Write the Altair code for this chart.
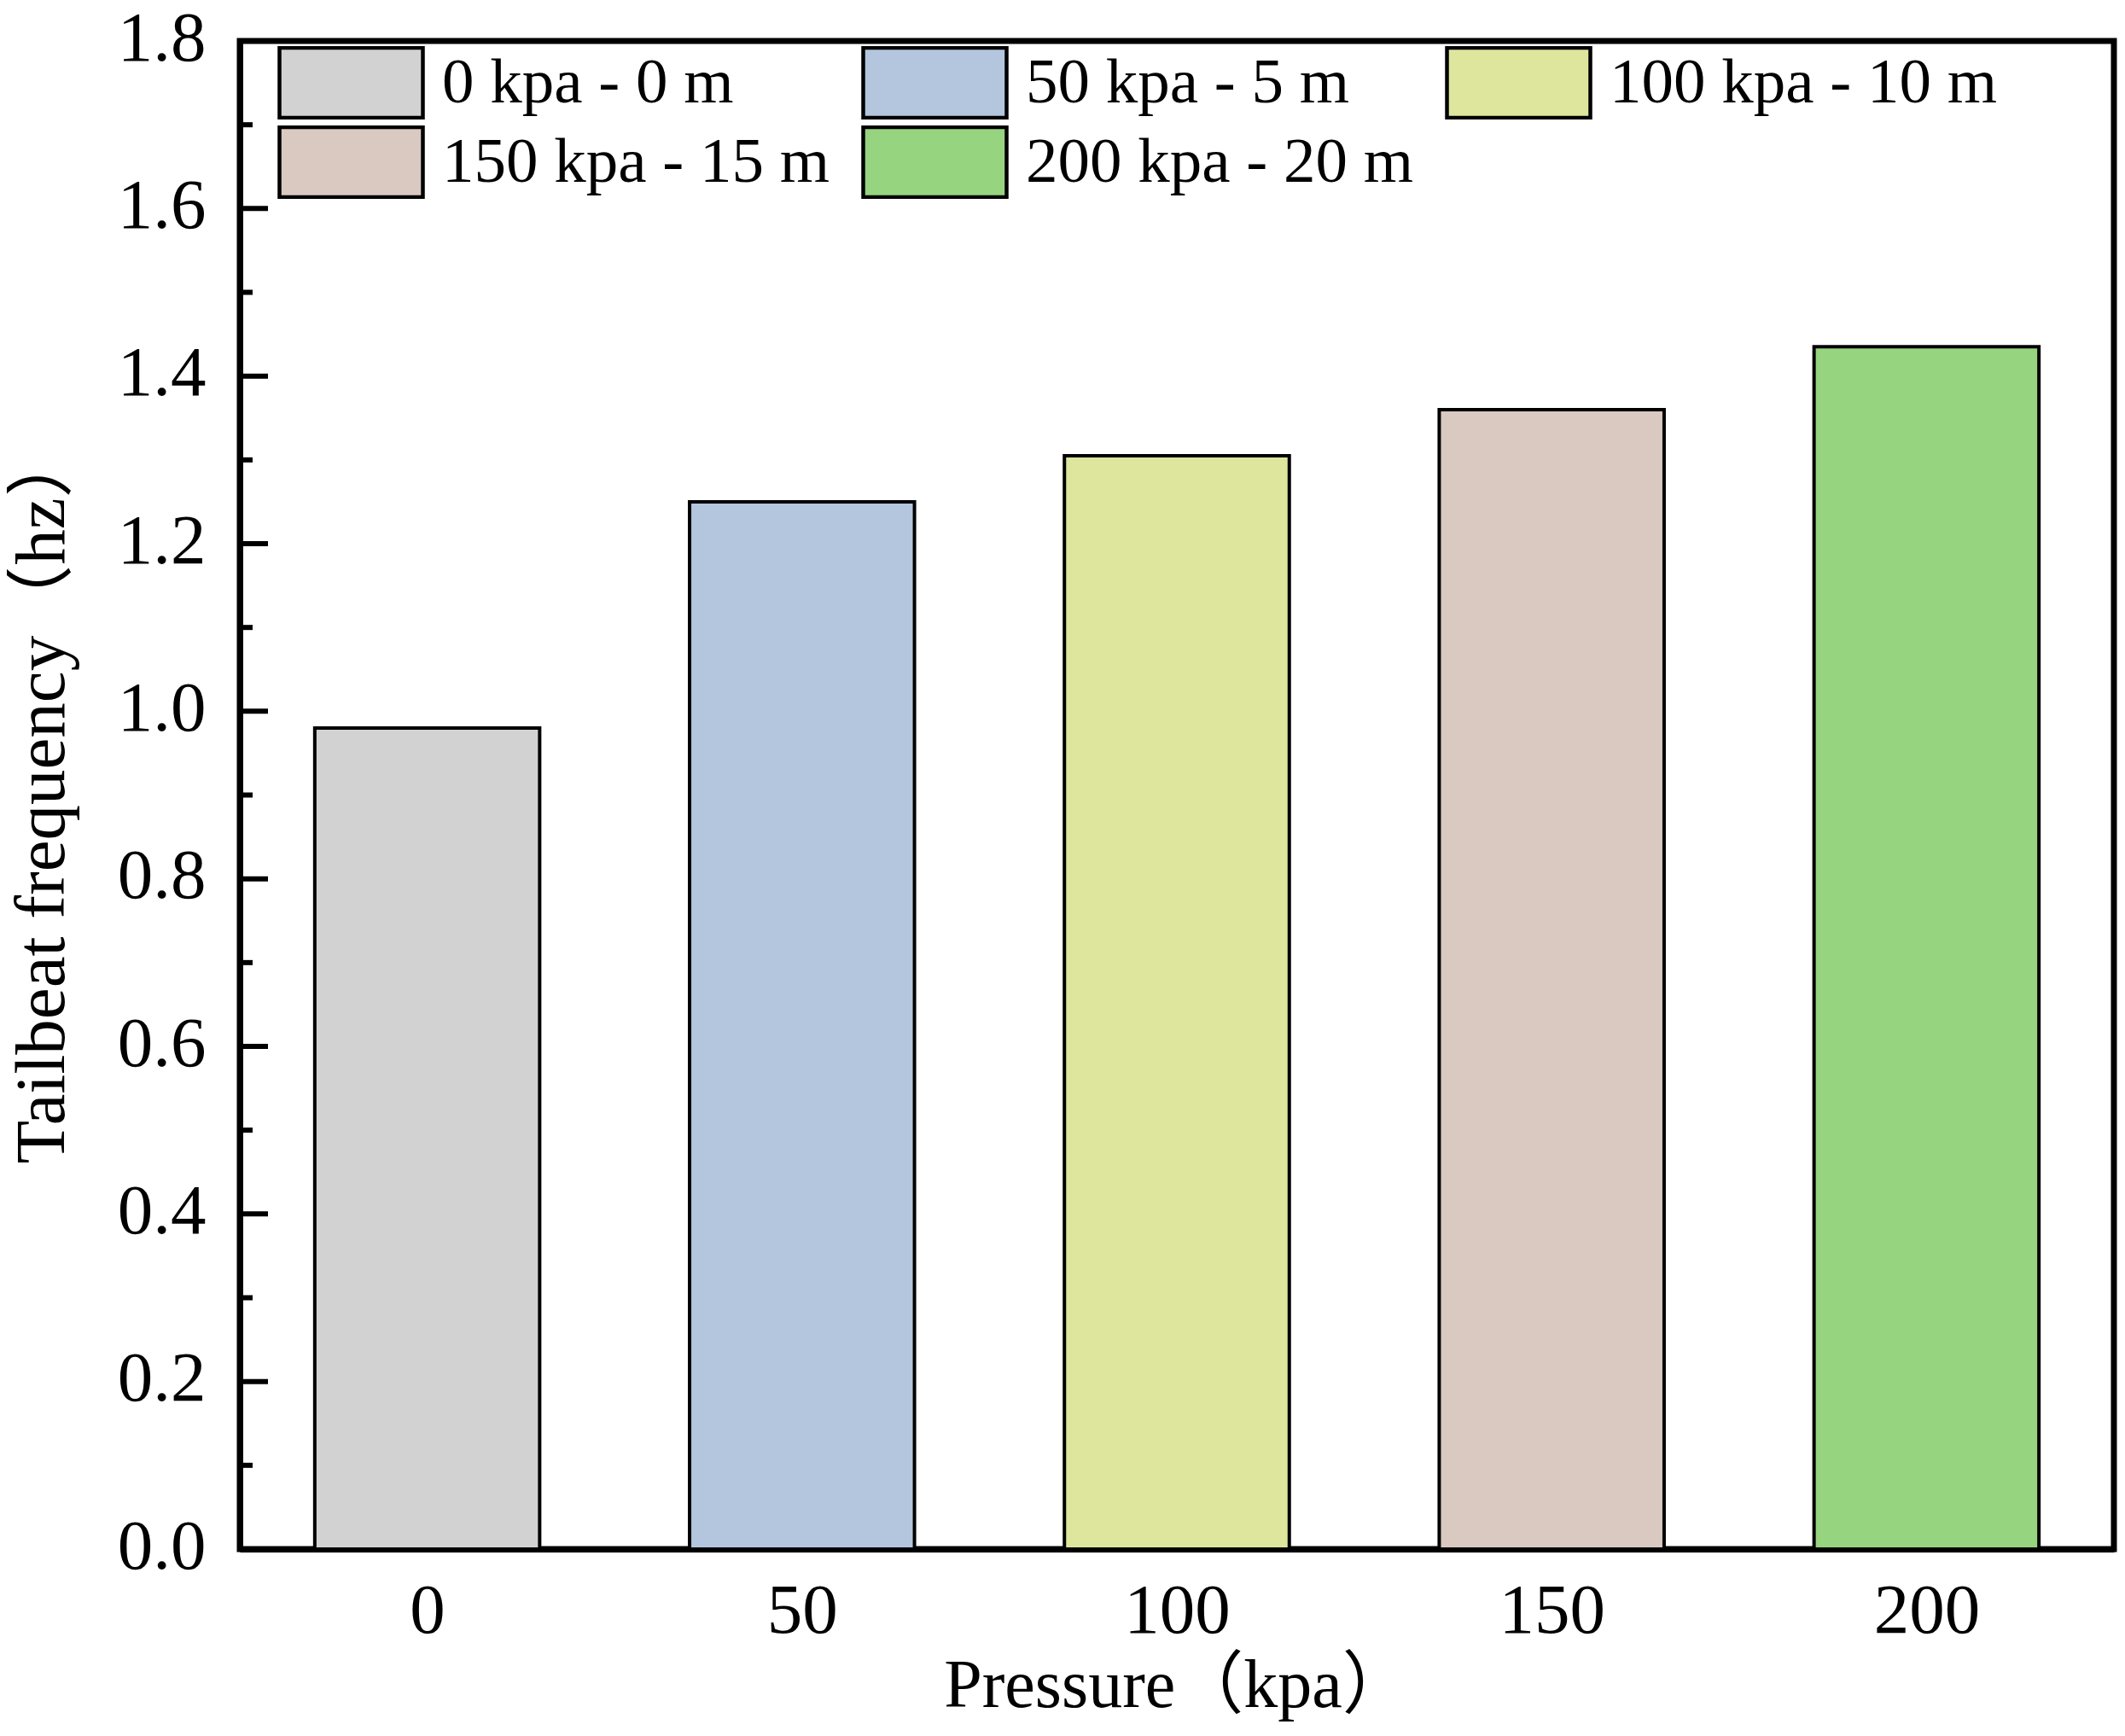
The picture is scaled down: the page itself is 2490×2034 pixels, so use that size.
import altair as alt
import pandas as pd

# ---- data ----
pressure = [0, 50, 100, 150, 200]
frequency = [0.98, 1.25, 1.305, 1.36, 1.435]
series = ["0 kpa - 0 m", "50 kpa - 5 m", "100 kpa - 10 m", "150 kpa - 15 m", "200 kpa - 20 m"]
colors = ["#d2d2d2", "#b3c6de", "#dde69c", "#d9c9c1", "#96d480"]
y_major = [0.0, 0.2, 0.4, 0.6, 0.8, 1.0, 1.2, 1.4, 1.6, 1.8]
y_minor = [0.1, 0.3, 0.5, 0.7, 0.9, 1.1, 1.3, 1.5, 1.7]

FONT = "Liberation Serif, Times New Roman, Noto Sans CJK SC"

df = pd.DataFrame({"pressure": pressure, "freq": frequency, "series": series})

yscale = alt.Scale(domain=[0, 1.8], nice=False, zero=True)
yaxis = alt.Axis(
    values=y_major,
    format=".1f",
    title="Tailbeat frequency（hz）",
    labelPadding=40,
    titlePadding=46,
    labelOffset=-3,
)

bars = (
    alt.Chart(df)
    .transform_calculate(lo="datum.pressure - 15", hi="datum.pressure + 15")
    .mark_bar(stroke="black", strokeWidth=4, opacity=1)
    .encode(
        x=alt.X(
            "lo:Q",
            scale=alt.Scale(domain=[-25, 225], nice=False, zero=False),
            axis=alt.Axis(
                values=pressure,
                format="d",
                title="Pressure（kpa）",
                titleFontSize=80,
                labelPadding=31,
                titlePadding=7,
                labelFlush=False,
            ),
        ),
        x2="hi:Q",
        y=alt.Y("freq:Q", scale=yscale, axis=yaxis),
        y2=alt.datum(0),
        color=alt.Color(
            "series:N",
            sort=series,
            scale=alt.Scale(domain=series, range=colors),
            legend=alt.Legend(
                title=None,
                orient="none",
                direction="horizontal",
                legendX=44,
                legendY=6,
                columns=3,
                symbolType="M-1,-0.488L1,-0.488L1,0.488L-1,0.488Z",
                symbolSize=28224,
                symbolStrokeColor="black",
                symbolStrokeWidth=4.5,
                symbolOpacity=1,
                clipHeight=86,
                labelFont=FONT,
                labelFontSize=75,
                labelColor="black",
                labelOffset=20,
                labelLimit=1000,
                columnPadding=36,
                rowPadding=7,
                padding=0,
            ),
        ),
    )
)

major = (
    alt.Chart(pd.DataFrame({"freq": y_major}))
    .mark_rule(color="black", strokeWidth=6)
    .encode(y=alt.Y("freq:Q", scale=yscale, axis=yaxis), x=alt.value(0), x2=alt.value(33))
)
minor = (
    alt.Chart(pd.DataFrame({"freq": y_minor}))
    .mark_rule(color="black", strokeWidth=6)
    .encode(y=alt.Y("freq:Q", scale=yscale, axis=yaxis), x=alt.value(0), x2=alt.value(15))
)

chart = (
    alt.layer(bars, major, minor)
    .properties(
        width=2196,
        height=1767,
        autosize=alt.AutoSizeParams(type="none"),
        padding={"left": 273, "top": 40, "right": 5, "bottom": 215},
        background="white",
    )
    .configure_view(stroke="black", strokeWidth=7)
    .configure_axis(
        domainColor="black",
        domainWidth=7,
        grid=False,
        ticks=False,
        labelColor="black",
        titleColor="black",
        labelFont=FONT,
        titleFont=FONT,
        labelFontSize=83,
        titleFontSize=83,
        titleFontWeight="normal",
        zindex=1,
    )
)

chart.save("out.html", embed_options={"renderer": "svg", "actions": False})
